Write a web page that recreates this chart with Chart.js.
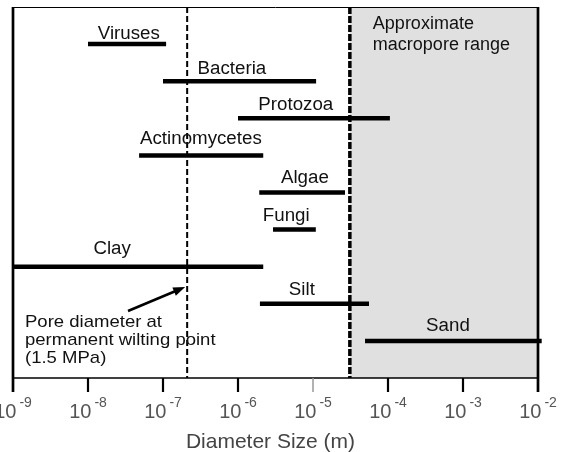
<!DOCTYPE html>
<html><head><meta charset="utf-8">
<script src="https://cdn.jsdelivr.net/npm/chart.js@4.4.1/dist/chart.umd.min.js"></script>
<style>html,body{margin:0;padding:0;background:#fff}</style>
</head><body>
<canvas id="c" width="561" height="452"></canvas>
<script>
// ---- data ----
const categories = ['Viruses','Bacteria','Protozoa','Actinomycetes','Algae','Fungi','Clay','Silt','Sand'];
const minSize = [1e-8, 1e-7, 1e-6, 4.8e-8, 1.92e-6, 2.93e-6, 1e-9, 1.96e-6, 4.94e-5];
const maxSize = [1.1e-7, 1.1e-5, 1.06e-4, 2.17e-6, 2.67e-5, 1.09e-5, 2.17e-6, 5.58e-5, 1.12e-2];
const tickExponents = [-9, -8, -7, -6, -5, -4, -3, -2];
const wiltingPoreDiameter = 2.1e-7;
const macroporeMin = 3.1e-5;

// label anchor (x in data units) and raise above the bar (px)
const labelAt = [3.5e-8, 8.3e-7, 5.9e-6, 3.2e-7, 7.8e-6, 4.4e-6, 2.1e-8, 7.1e-6, 6.3e-4];
const labelRaise = [5, 7, 8, 11, 10, 9, 13, 9, 10];

const datasets = categories.map((name, i) => ({
  label: name,
  data: [{x: minSize[i], y: i + 1}, {x: maxSize[i], y: i + 1}],
  showLine: true,
  borderColor: '#000',
  backgroundColor: '#000',
  borderWidth: 4.5,
  borderCapStyle: 'butt',
  pointRadius: 0,
  pointHoverRadius: 0,
  clip: false
}));

const FONT = '"Liberation Sans", Arial, Helvetica, sans-serif';

function stretchText(ctx, txt, x, y, align, sx) {
  const w = ctx.measureText(txt).width * sx;
  let left = x;
  if (align === 'center') left = x - w / 2;
  ctx.save();
  ctx.textAlign = 'left';
  ctx.translate(left, y);
  ctx.scale(sx, 1);
  ctx.fillText(txt, 0, 0);
  ctx.restore();
}

const overlay = {
  id: 'overlay',
  beforeDatasetsDraw(chart) {
    const {ctx, chartArea: a, scales: {x}} = chart;
    ctx.save();
    const xm = x.getPixelForValue(macroporeMin);
    ctx.fillStyle = '#e0e0e0';
    ctx.fillRect(xm, a.top, a.right - xm, a.bottom - a.top);
    ctx.strokeStyle = '#000';
    ctx.lineWidth = 2;
    ctx.setLineDash([6, 3]);
    const xw = x.getPixelForValue(wiltingPoreDiameter);
    ctx.beginPath(); ctx.moveTo(xw, a.top); ctx.lineTo(xw, a.bottom); ctx.stroke();
    ctx.lineWidth = 3.5;
    ctx.setLineDash([7, 2]);
    ctx.beginPath(); ctx.moveTo(xm, a.top); ctx.lineTo(xm, a.bottom); ctx.stroke();
    ctx.restore();
  },
  afterDatasetsDraw(chart) {
    const {ctx, chartArea: a, scales: {x, y}} = chart;
    ctx.save();
    ctx.fillStyle = '#111';
    ctx.font = '18px ' + FONT;
    ctx.textBaseline = 'alphabetic';
    categories.forEach((name, i) => {
      stretchText(ctx, name, x.getPixelForValue(labelAt[i]), y.getPixelForValue(i + 1) - labelRaise[i], 'center', 1.04);
    });
    const xm = x.getPixelForValue(macroporeMin);
    stretchText(ctx, 'Approximate', xm + 23, 29, 'left', 1.0);
    stretchText(ctx, 'macropore range', xm + 23, 50, 'left', 1.0);
    ctx.font = '17px ' + FONT;
    stretchText(ctx, 'Pore diameter at', a.left + 12, 327, 'left', 1.09);
    stretchText(ctx, 'permanent wilting point', a.left + 12, 345, 'left', 1.09);
    stretchText(ctx, '(1.5 MPa)', a.left + 12, 363, 'left', 1.09);
    // arrow
    const xw = x.getPixelForValue(wiltingPoreDiameter);
    const tx = xw - 2, ty = 287, sx = 128, sy = 311;
    const ang = Math.atan2(ty - sy, tx - sx);
    ctx.strokeStyle = '#000';
    ctx.lineWidth = 2.5;
    ctx.beginPath(); ctx.moveTo(sx, sy); ctx.lineTo(tx - 9 * Math.cos(ang), ty - 9 * Math.sin(ang)); ctx.stroke();
    ctx.fillStyle = '#000';
    ctx.beginPath();
    ctx.moveTo(tx, ty);
    ctx.lineTo(tx - 12 * Math.cos(ang) + 4.5 * Math.sin(ang), ty - 12 * Math.sin(ang) - 4.5 * Math.cos(ang));
    ctx.lineTo(tx - 12 * Math.cos(ang) - 4.5 * Math.sin(ang), ty - 12 * Math.sin(ang) + 4.5 * Math.cos(ang));
    ctx.closePath(); ctx.fill();
    ctx.restore();
  },
  afterDraw(chart) {
    const {ctx, chartArea: a, scales: {x}} = chart;
    ctx.save();
    ctx.strokeStyle = '#000';
    ctx.lineWidth = 1;
    ctx.beginPath(); ctx.moveTo(a.left, a.top + 0.5); ctx.lineTo(a.right, a.top + 0.5); ctx.stroke();
    ctx.lineWidth = 1.5;
    ctx.beginPath(); ctx.moveTo(a.left, a.bottom); ctx.lineTo(a.right, a.bottom); ctx.stroke();
    ctx.lineWidth = 2.7;
    ctx.beginPath(); ctx.moveTo(a.left, a.top); ctx.lineTo(a.left, a.bottom + 14); ctx.stroke();
    ctx.beginPath(); ctx.moveTo(a.right, a.top); ctx.lineTo(a.right, a.bottom + 14); ctx.stroke();
    tickExponents.forEach(e => {
      const px = x.getPixelForValue(Math.pow(10, e));
      if (e !== tickExponents[0] && e !== tickExponents[tickExponents.length - 1]) {
        ctx.strokeStyle = e === -5 ? '#999' : '#000';
        ctx.lineWidth = e === -5 ? 1.5 : 2.2;
        ctx.beginPath(); ctx.moveTo(px, a.bottom); ctx.lineTo(px, a.bottom + 14); ctx.stroke();
      }
      ctx.fillStyle = '#555';
      ctx.textAlign = 'left';
      ctx.font = '20px ' + FONT;
      const w1 = ctx.measureText('10').width;
      ctx.font = '14px ' + FONT;
      const expTxt = '-' + Math.abs(e);
      const w2 = ctx.measureText(expTxt).width;
      const gap = 3;
      const start = px - (w1 + gap + w2) / 2;
      ctx.font = '20px ' + FONT;
      ctx.fillText('10', start, a.bottom + 40);
      ctx.font = '14px ' + FONT;
      ctx.fillText(expTxt, start + w1 + gap, a.bottom + 29);
    });
    ctx.fillStyle = '#444';
    ctx.font = '21px ' + FONT;
    ctx.textAlign = 'center';
    ctx.fillText('Diameter Size (m)', (a.left + a.right) / 2 - 5, 448);
    ctx.restore();
  }
};

new Chart(document.getElementById('c'), {
  type: 'scatter',
  data: {datasets},
  options: {
    responsive: false,
    animation: false,
    events: [],
    layout: {padding: {left: 13, top: 7, right: 23, bottom: 74}},
    plugins: {legend: {display: false}, tooltip: {enabled: false}},
    scales: {
      x: {type: 'logarithmic', min: 1e-9, max: 1e-2, display: false},
      y: {type: 'linear', min: 0, max: 10, reverse: true, display: false}
    }
  },
  plugins: [overlay]
});
</script>
</body></html>
